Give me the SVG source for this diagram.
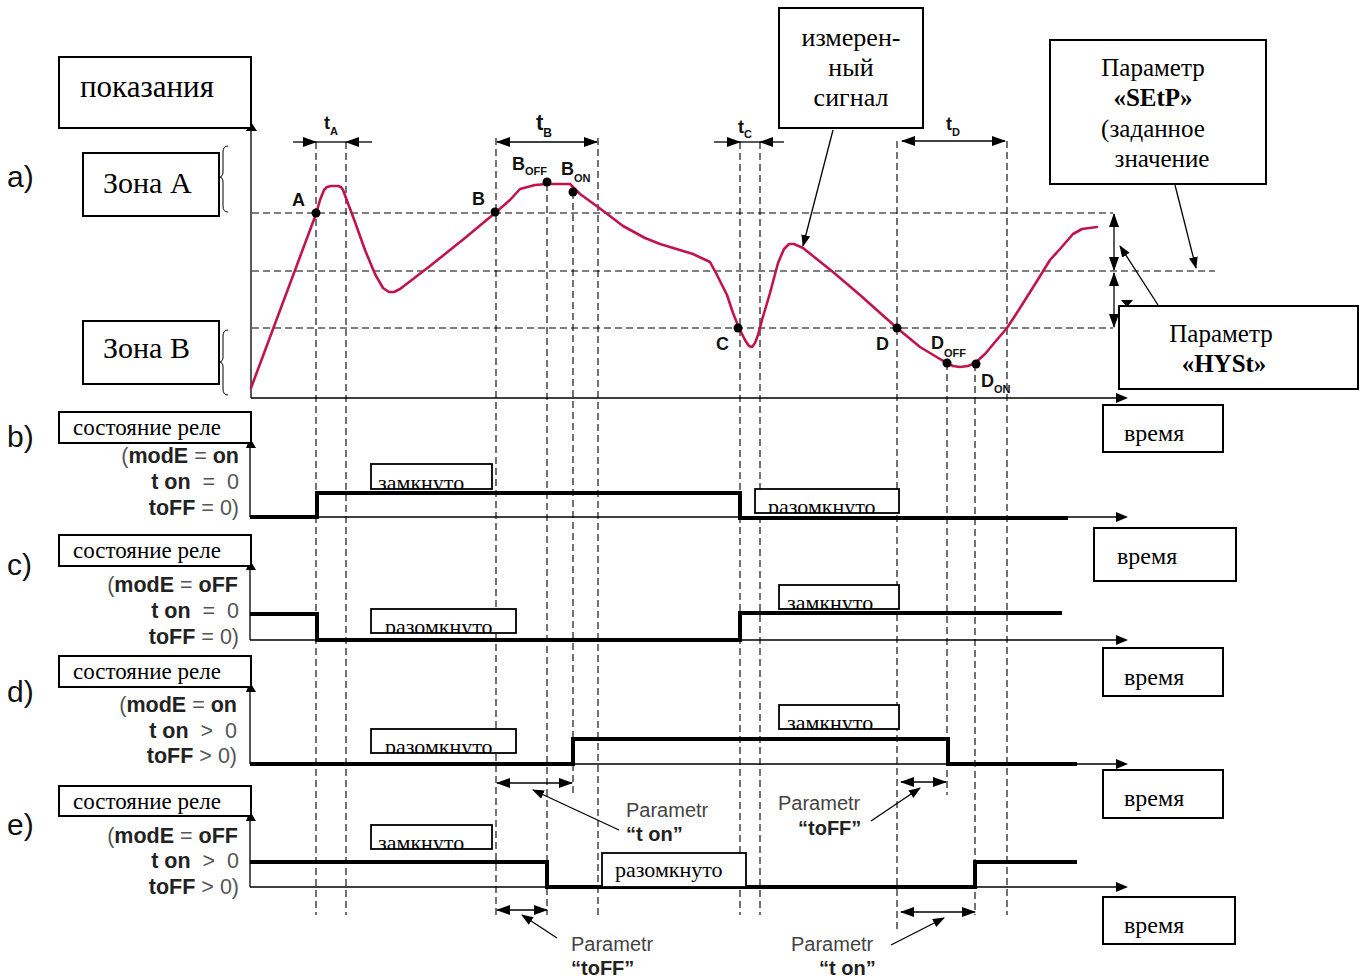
<svg xmlns="http://www.w3.org/2000/svg" width="1366" height="978" viewBox="0 0 1366 978">
<style>
.box{fill:#fff;stroke:#000;stroke-width:2}
.sbox{fill:#fff;stroke:#000;stroke-width:1.8}
.serif{font-family:"Liberation Serif","Times New Roman",serif;fill:#000}
.dash{stroke:#000;stroke-width:1.1;stroke-dasharray:7 4;fill:none}
.thin{stroke:#000;stroke-width:1.3;fill:none}
.sig{stroke:#000;stroke-width:4;fill:none}
.curve{fill:none;stroke:#c0154b;stroke-width:2.6;stroke-linejoin:round;stroke-linecap:round}
.lbl{font-family:"Liberation Sans",Arial,sans-serif;font-weight:bold;fill:#111}
.sec{font-family:"Liberation Sans",Arial,sans-serif;font-size:30px;fill:#111}
.cond{font-family:"Liberation Sans",Arial,sans-serif;font-size:21.5px;fill:#555}
.b{font-weight:bold;fill:#222}
.par{font-family:"Liberation Sans",Arial,sans-serif;font-size:20px;fill:#444}
.parb{font-family:"Liberation Sans",Arial,sans-serif;font-size:20px;font-weight:bold;fill:#222}
.pt{stroke:#000;stroke-width:1.3;fill:none}
</style>
<defs>
<marker id="ah" markerUnits="userSpaceOnUse" markerWidth="14" markerHeight="10" refX="13" refY="5" orient="auto-start-reverse"><path d="M0,0 L14,5 L0,10 z" fill="#000"/></marker>
<marker id="ahs" markerUnits="userSpaceOnUse" markerWidth="12" markerHeight="9" refX="11" refY="4.5" orient="auto-start-reverse"><path d="M0,0 L12,4.5 L0,9 z" fill="#000"/></marker>
<clipPath id="c1"><rect x="371" y="464" width="121" height="25"/></clipPath>
<clipPath id="c2"><rect x="755" y="489" width="144" height="24"/></clipPath>
<clipPath id="c3"><rect x="371" y="609" width="145" height="24"/></clipPath>
<clipPath id="c4"><rect x="779" y="585" width="120" height="24"/></clipPath>
<clipPath id="c5"><rect x="371" y="729" width="145" height="24"/></clipPath>
<clipPath id="c6"><rect x="779" y="705" width="120" height="24"/></clipPath>
<clipPath id="c7"><rect x="371" y="825" width="121" height="24"/></clipPath>
</defs>
<rect width="1366" height="978" fill="#fff"/>

<g id="grid">
<path class="dash" d="M252,213 H1113 M252,271 H1215 M252,328 H1113"/>
<path class="dash" d="M316,142 V915 M346,142 V915 M496,138 V915 M547,184 V915 M573,192 V793 M598,138 V915 M740,142 V915 M760,142 V915 M897,141 V932 M947,363 V795 M975,364 V915 M1007,141 V915"/>
</g>

<g id="axes">
<path class="thin" d="M251,398 V124 M251,398 H1118" />
<path d="M1116,393 L1128,398 L1116,403 z"/>
<path class="thin" d="M250,517 V440 M250,517 H1118"/>
<path d="M1116,512 L1128,517 L1116,522 z"/>
<path class="thin" d="M250,640 V562 M250,640 H1118"/>
<path d="M1116,635 L1128,640 L1116,645 z"/>
<path class="thin" d="M250,764 V684 M250,764 H1118"/>
<path d="M1116,759 L1128,764 L1116,769 z"/>
<path class="thin" d="M250,887 V812 M250,887 H1118"/>
<path d="M1116,882 L1128,887 L1116,892 z"/>
<path d="M246,131 L251,122 L257,131 z M246,448 L250,438 L256,448 z M246,570 L250,560 L256,570 z M246,692 L250,682 L256,692 z M246,821 L250,811 L256,821 z"/>
</g>

<g id="signal">
<polyline class="curve" points="251,388 316,214 320,200 324,190 327,187 331,186 338,186 341,187 343,190 346,198 355,222 365,250 375,274 383,288 389,292 394,292 400,289 430,266 465,238 495,213 510,200 520,189 535,185 547,184 570,184 574,188 580,194 598,207 623,226 645,238 660,244 693,254 710,262 716,273 727,295 733,313 739,328 745,340 749,346 752,347 755,343 758,335 762,320 770,293 778,263 784,249 789,244 794,244 803,248 833,272 860,295 897,328 920,347 940,359 947,363 953,366 960,367 968,366 975,363 985,354 995,342 1007,328 1020,308 1037,281 1050,260 1060,249 1073,234 1082,229 1097,227"/>
<g fill="#000">
<circle cx="316" cy="213" r="4.5"/>
<circle cx="495" cy="212" r="4.5"/>
<circle cx="547" cy="182" r="4.5"/>
<circle cx="573" cy="192" r="4.5"/>
<circle cx="738" cy="328" r="4.5"/>
<circle cx="897" cy="328" r="4.5"/>
<circle cx="947" cy="363" r="4.5"/>
<circle cx="976" cy="364" r="4.5"/>
</g>
<text class="lbl" font-size="18" x="292" y="206">A</text>
<text class="lbl" font-size="18" x="472" y="205">B</text>
<text class="lbl" font-size="18" x="512" y="170">B<tspan font-size="11" dy="5">OFF</tspan></text>
<text class="lbl" font-size="18" x="561" y="175">B<tspan font-size="11" dy="7">ON</tspan></text>
<text class="lbl" font-size="18" x="716" y="350">C</text>
<text class="lbl" font-size="18" x="876" y="350">D</text>
<text class="lbl" font-size="18" x="931" y="349">D<tspan font-size="11" dy="8">OFF</tspan></text>
<text class="lbl" font-size="18" x="981" y="387">D<tspan font-size="11" dy="6">ON</tspan></text>
<text class="lbl" font-size="18" x="324" y="129">t<tspan font-size="11" dy="6">A</tspan></text>
<text class="lbl" font-size="22" x="536" y="130">t<tspan font-size="12" dy="7">B</tspan></text>
<text class="lbl" font-size="18" x="738" y="133">t<tspan font-size="11" dy="5">C</tspan></text>
<text class="lbl" font-size="18" x="946" y="130">t<tspan font-size="11" dy="6">D</tspan></text>
</g>

<g id="relays">
<path class="sig" d="M250,517 H317 V493 H740 V518 H1068"/>
<path class="sig" stroke-width="3" d="M250,614 H317"/>
<path class="sig" d="M317,612 V640 H740 V613 H1062"/>
<path class="sig" d="M250,764 H573 V739 H948 V764 H1077"/>
<path class="sig" d="M250,862 H547 V887 H975 V862 H1077"/>
</g>

<g id="connectors">
<path class="pt" d="M293,142 H316" marker-end="url(#ah)"/>
<path class="pt" d="M372,142 H346" marker-end="url(#ah)"/>
<path class="pt" d="M316,142 H346"/>
<path class="pt" d="M497,142 H597" marker-start="url(#ah)" marker-end="url(#ah)"/>
<path class="pt" d="M714,142 H740" marker-end="url(#ah)"/>
<path class="pt" d="M784,142 H760" marker-end="url(#ah)"/>
<path class="pt" d="M740,142 H760"/>
<path class="pt" d="M902,141 H1005" marker-start="url(#ah)" marker-end="url(#ah)"/>
<path class="pt" d="M1114,214 V270" marker-start="url(#ah)" marker-end="url(#ah)"/>
<path class="pt" d="M1114,273 V327" marker-start="url(#ah)" marker-end="url(#ah)"/>
<path d="M1121,300 L1133,300 L1127,307 z"/>
<path class="pt" d="M833,130 L803,246" marker-end="url(#ahs)"/>
<path class="pt" d="M1175,185 L1196,268" marker-end="url(#ahs)"/>
<path class="pt" d="M1158,305 L1120,246" marker-end="url(#ahs)"/>
<path class="pt" d="M497,783 H572" marker-start="url(#ah)" marker-end="url(#ah)"/>
<path class="pt" d="M901,782 H946" marker-start="url(#ah)" marker-end="url(#ah)"/>
<path class="pt" d="M497,910 H547" marker-start="url(#ah)" marker-end="url(#ah)"/>
<path class="pt" d="M901,912 H975" marker-start="url(#ah)" marker-end="url(#ah)"/>
<path class="pt" d="M619,830 L533,790" marker-end="url(#ahs)"/>
<path class="pt" d="M871,821 L920,788" marker-end="url(#ahs)"/>
<path class="pt" d="M557,938 L522,915" marker-end="url(#ahs)"/>
<path class="pt" d="M891,945 L944,918" marker-end="url(#ahs)"/>
</g>

<g id="sections">
<text class="sec" x="7" y="187">a)</text>
<text class="sec" x="7" y="447">b)</text>
<text class="sec" x="7" y="575">c)</text>
<text class="sec" x="7" y="702">d)</text>
<text class="sec" x="7" y="835">e)</text>
</g>

<g id="n-pokazania"><rect class="box" x="59" y="57" width="192" height="71"/><text class="serif" font-size="31" x="80" y="97">показания</text></g>
<g id="n-zonaA"><rect class="box" x="83" y="153" width="136" height="63"/><text class="serif" font-size="30" x="103" y="193">Зона А</text>
<path d="M228,146 Q223,146 223,152 V172 Q223,177 219,177 Q223,177 223,182 V206 Q223,212 228,212" fill="none" stroke="#000" stroke-width="1"/></g>
<g id="n-zonaB"><rect class="box" x="83" y="321" width="136" height="63"/><text class="serif" font-size="30" x="103" y="358">Зона В</text>
<path d="M228,330 Q223,330 223,336 V357 Q223,362 219,362 Q223,362 223,367 V389 Q223,395 228,395" fill="none" stroke="#000" stroke-width="1"/></g>
<g id="n-izmer"><rect class="box" x="779" y="8" width="144" height="120"/>
<text class="serif" font-size="26" text-anchor="middle"><tspan x="851" y="46">измерен-</tspan><tspan x="851" y="76">ный</tspan><tspan x="851" y="106">сигнал</tspan></text></g>
<g id="n-setp"><rect class="box" x="1050" y="40" width="216" height="144"/>
<text class="serif" font-size="25" text-anchor="middle"><tspan x="1153" y="76">Параметр</tspan><tspan x="1153" y="106" font-weight="bold">«SEtP»</tspan><tspan x="1153" y="137">(заданное</tspan><tspan x="1162" y="167">значение</tspan></text></g>
<g id="n-hyst"><rect class="box" x="1119" y="306" width="239" height="83"/>
<text class="serif" font-size="25" text-anchor="middle"><tspan x="1221" y="342">Параметр</tspan><tspan x="1224" y="372" font-weight="bold">«HYSt»</tspan></text></g>

<g id="n-time1"><rect class="box" x="1103" y="405" width="120" height="47"/><text class="serif" font-size="24" x="1124" y="441">время</text></g>
<g id="n-time2"><rect class="box" x="1094" y="528" width="142" height="53"/><text class="serif" font-size="24" x="1117" y="564">время</text></g>
<g id="n-time3"><rect class="box" x="1103" y="648" width="120" height="48"/><text class="serif" font-size="24" x="1124" y="685">время</text></g>
<g id="n-time4"><rect class="box" x="1103" y="770" width="120" height="48"/><text class="serif" font-size="24" x="1124" y="806">время</text></g>
<g id="n-time5"><rect class="box" x="1103" y="897" width="132" height="47"/><text class="serif" font-size="24" x="1124" y="933">время</text></g>

<g id="n-b-label"><rect class="box" x="59" y="412" width="192" height="31"/><text class="serif" font-size="23" x="73" y="435">состояние реле</text>
<text class="cond" text-anchor="end" xml:space="preserve"><tspan x="239" y="463">(<tspan class="b">modE</tspan> = <tspan class="b">on</tspan></tspan><tspan x="239" y="489"><tspan class="b">t on</tspan>  =  0</tspan><tspan x="239" y="515"><tspan class="b">toFF</tspan> = 0)</tspan></text></g>
<g id="n-b-closed"><rect class="sbox" x="371" y="464" width="121" height="25"/><text class="serif" font-size="22" x="378" y="490" clip-path="url(#c1)">замкнуто</text></g>
<g id="n-b-open"><rect class="sbox" x="755" y="489" width="144" height="24"/><text class="serif" font-size="22" x="768" y="514" clip-path="url(#c2)">разомкнуто</text></g>

<g id="n-c-label"><rect class="box" x="59" y="535" width="192" height="31"/><text class="serif" font-size="23" x="73" y="558">состояние реле</text>
<text class="cond" text-anchor="end" xml:space="preserve"><tspan x="238" y="592">(<tspan class="b">modE</tspan> = <tspan class="b">oFF</tspan></tspan><tspan x="239" y="618"><tspan class="b">t on</tspan>  =  0</tspan><tspan x="239" y="644"><tspan class="b">toFF</tspan> = 0)</tspan></text></g>
<g id="n-c-open"><rect class="sbox" x="371" y="609" width="145" height="24"/><text class="serif" font-size="22" x="385" y="634" clip-path="url(#c3)">разомкнуто</text></g>
<g id="n-c-closed"><rect class="sbox" x="779" y="585" width="120" height="24"/><text class="serif" font-size="22" x="787" y="610" clip-path="url(#c4)">замкнуто</text></g>

<g id="n-d-label"><rect class="box" x="59" y="656" width="192" height="31"/><text class="serif" font-size="23" x="73" y="679">состояние реле</text>
<text class="cond" text-anchor="end" xml:space="preserve"><tspan x="237" y="712">(<tspan class="b">modE</tspan> = <tspan class="b">on</tspan></tspan><tspan x="237" y="738"><tspan class="b">t on</tspan>  &gt;  0</tspan><tspan x="237" y="763"><tspan class="b">toFF</tspan> &gt; 0)</tspan></text></g>
<g id="n-d-open"><rect class="sbox" x="371" y="729" width="145" height="24"/><text class="serif" font-size="22" x="385" y="754" clip-path="url(#c5)">разомкнуто</text></g>
<g id="n-d-closed"><rect class="sbox" x="779" y="705" width="120" height="24"/><text class="serif" font-size="22" x="787" y="730" clip-path="url(#c6)">замкнуто</text></g>
<g id="n-d-ton"><text class="par" x="626" y="817">Parametr</text><text class="parb" x="626" y="841">“t on”</text></g>
<g id="n-d-toff"><text class="par" x="778" y="810">Parametr</text><text class="parb" x="798" y="835">“toFF”</text></g>

<g id="n-e-label"><rect class="box" x="59" y="786" width="192" height="30"/><text class="serif" font-size="23" x="73" y="809">состояние реле</text>
<text class="cond" text-anchor="end" xml:space="preserve"><tspan x="238" y="843">(<tspan class="b">modE</tspan> = <tspan class="b">oFF</tspan></tspan><tspan x="239" y="868"><tspan class="b">t on</tspan>  &gt;  0</tspan><tspan x="239" y="894"><tspan class="b">toFF</tspan> &gt; 0)</tspan></text></g>
<g id="n-e-closed"><rect class="sbox" x="371" y="825" width="121" height="24"/><text class="serif" font-size="22" x="378" y="850" clip-path="url(#c7)">замкнуто</text></g>
<g id="n-e-open"><rect class="sbox" x="602" y="853" width="144" height="34"/><text class="serif" font-size="22" x="615" y="877">разомкнуто</text></g>
<g id="n-e-toff"><text class="par" x="571" y="951">Parametr</text><text class="parb" x="571" y="975">“toFF”</text></g>
<g id="n-e-ton"><text class="par" x="791" y="951">Parametr</text><text class="parb" x="819" y="975">“t on”</text></g>
</svg>
